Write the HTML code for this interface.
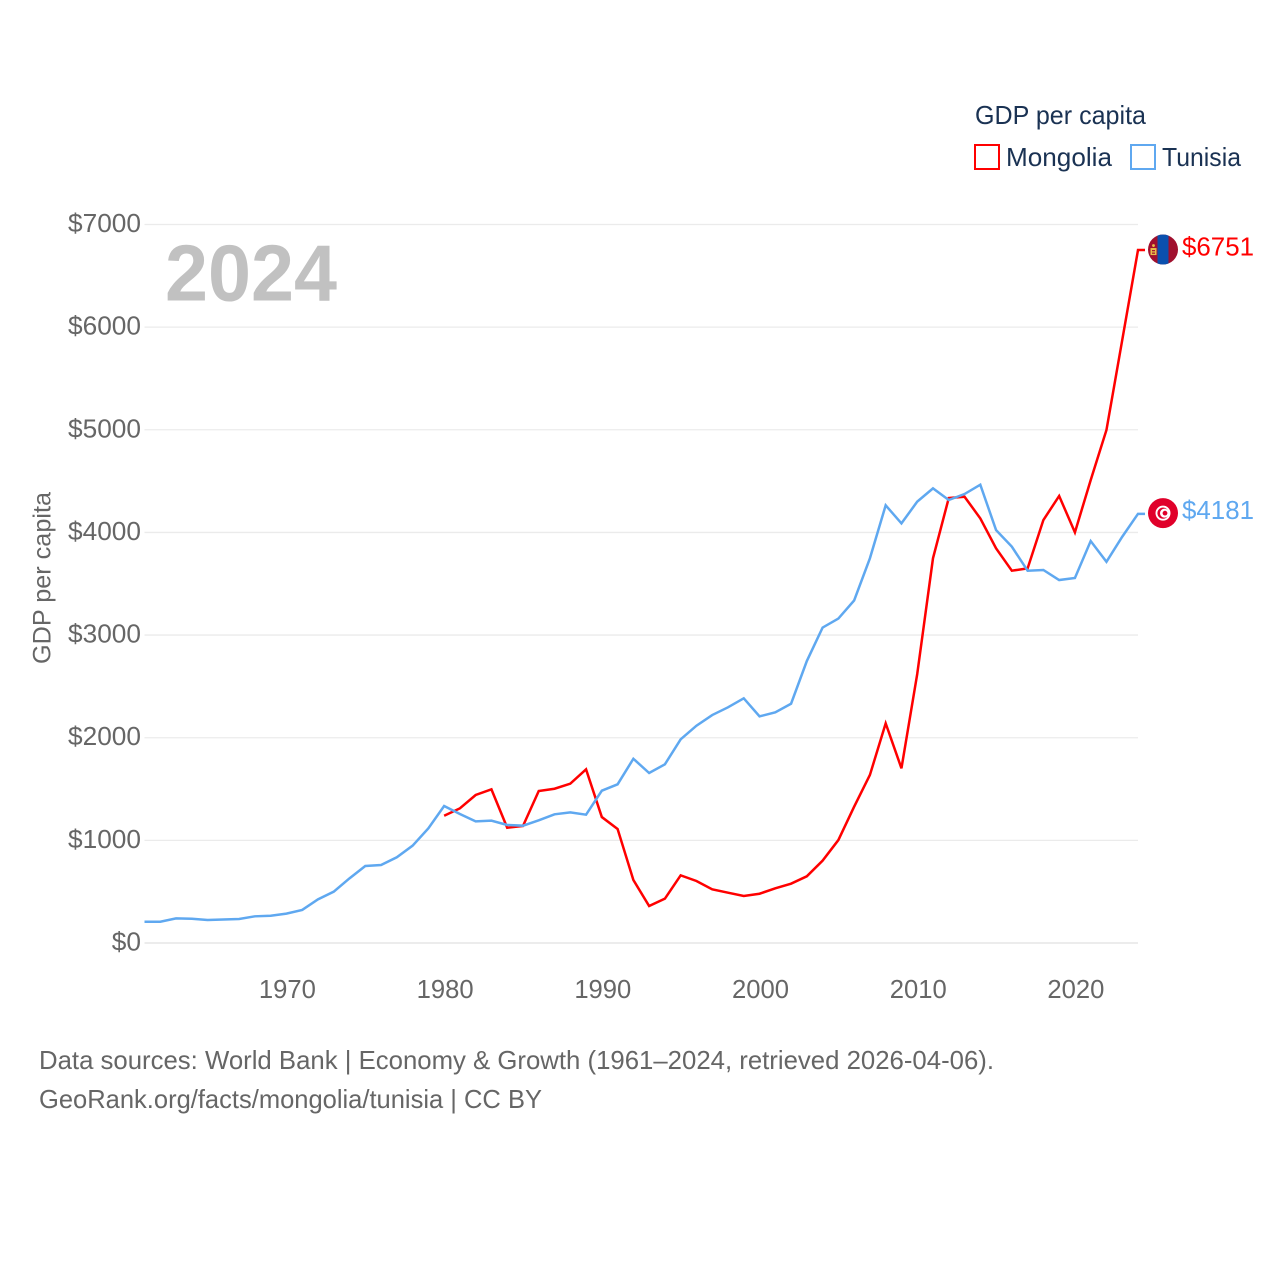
<!DOCTYPE html>
<html lang="en">
<head>
<meta charset="utf-8">
<title>GDP per capita: Mongolia and Tunisia</title>
<style>
html,body{margin:0;padding:0;background:#fff;}
body{width:1280px;height:1280px;overflow:hidden;}
svg{display:block;}
text{font-family:"Liberation Sans",sans-serif;}
</style>
</head>
<body>
<svg id="chart" width="1280" height="1280" viewBox="0 0 1280 1280" xmlns="http://www.w3.org/2000/svg">
  <rect x="0" y="0" width="1280" height="1280" fill="#ffffff"/>
  <g id="grid"></g>
  <g id="yticks"></g>
  <g id="xticks"></g>
  <text x="165" y="300.5" font-size="80" font-weight="700" fill="#c1c1c1" textLength="172" lengthAdjust="spacingAndGlyphs">2024</text>
  <text transform="translate(50.5,664) rotate(-90)" font-size="25" fill="#666666" textLength="172" lengthAdjust="spacingAndGlyphs">GDP per capita</text>
  <g id="series"></g>
  <g id="endmarks"></g>
  <g>
    <text x="975" y="124" font-size="26" fill="#1a3253" textLength="171" lengthAdjust="spacingAndGlyphs">GDP per capita</text>
    <rect x="975" y="145" width="24" height="24" fill="#ffffff" stroke="#ff0000" stroke-width="2"/>
    <text x="1006" y="166" font-size="26" fill="#1a3253" textLength="106" lengthAdjust="spacingAndGlyphs">Mongolia</text>
    <rect x="1131" y="145" width="24" height="24" fill="#ffffff" stroke="#5fa8f0" stroke-width="2"/>
    <text x="1162" y="166" font-size="26" fill="#1a3253" textLength="79" lengthAdjust="spacingAndGlyphs">Tunisia</text>
  </g>
  <g>
    <text x="39" y="1069" font-size="26" fill="#666666" textLength="955" lengthAdjust="spacingAndGlyphs">Data sources: World Bank | Economy &amp; Growth (1961–2024, retrieved 2026-04-06).</text>
    <text x="39" y="1108" font-size="26" fill="#666666" textLength="503" lengthAdjust="spacingAndGlyphs">GeoRank.org/facts/mongolia/tunisia | CC BY</text>
  </g>
</svg>
<script>
const yTickValues = [0, 1000, 2000, 3000, 4000, 5000, 6000, 7000];
const yTickLabels = ["$0", "$1000", "$2000", "$3000", "$4000", "$5000", "$6000", "$7000"];
const xTickYears = [1970, 1980, 1990, 2000, 2010, 2020];
const firstYear = 1961;
const lastYear = 2024;
const mongoliaStartYear = 1980;
const mongoliaValues = [1240, 1312, 1442, 1497, 1123, 1140, 1481, 1503, 1552, 1692, 1227, 1111, 614, 360, 432, 659, 604, 523, 490, 458, 480, 533, 578, 650, 802, 1003, 1328, 1637, 2140, 1702, 2620, 3748, 4335, 4348, 4137, 3845, 3627, 3650, 4121, 4355, 4001, 4510, 4998, 5874, 6751];
const tunisiaStartYear = 1961;
const tunisiaValues = [207, 207, 240, 236, 224, 229, 234, 260, 266, 286, 322, 425, 500, 630, 750, 760, 835, 948, 1117, 1335, 1257, 1185, 1192, 1150, 1143, 1195, 1254, 1273, 1250, 1484, 1546, 1795, 1656, 1741, 1984, 2117, 2221, 2296, 2384, 2208, 2247, 2331, 2747, 3073, 3161, 3337, 3748, 4264, 4088, 4300, 4429, 4316, 4374, 4465, 4023, 3861, 3627, 3634, 3536, 3556, 3916, 3714, 3958, 4181];
const mongoliaEndLabel = "$6751";
const tunisiaEndLabel = "$4181";

const NS = "http://www.w3.org/2000/svg";
const plotLeft = 144.5, plotRight = 1138, plotBottom = 943, plotTop = 224.5;
const xScale = year => plotLeft + (year - firstYear) * (plotRight - plotLeft) / (lastYear - firstYear);
const yScale = value => plotBottom - value * (plotBottom - plotTop) / 7000;

function make(tag, attrs, parent) {
  const el = document.createElementNS(NS, tag);
  for (const k in attrs) el.setAttribute(k, attrs[k]);
  parent.appendChild(el);
  return el;
}

const gridGroup = document.getElementById("grid");
const yGroup = document.getElementById("yticks");
const xGroup = document.getElementById("xticks");
const seriesGroup = document.getElementById("series");
const endGroup = document.getElementById("endmarks");

yTickValues.forEach((v, i) => {
  const line = make("line", {x1: plotLeft, x2: plotRight, y1: yScale(v), y2: yScale(v), stroke: v === 0 ? "#e6e6e6" : "#ebebeb", "stroke-width": v === 0 ? 1.6 : 1.3}, gridGroup);
  
  
  const label = yTickLabels[i];
  const t = make("text", {x: 141 - label.length * 14.6, y: yScale(v) + 7.5, "font-size": 26, fill: "#666666", textLength: label.length * 14.6, lengthAdjust: "spacingAndGlyphs"}, yGroup);
  
  
  t.textContent = label;
});

xTickYears.forEach(year => {
  const t = make("text", {x: xScale(year) - 27.5, y: 998, "font-size": 26, fill: "#666666", textLength: 57, lengthAdjust: "spacingAndGlyphs"}, xGroup);
  
  
  t.textContent = String(year);
});

function linePoints(values, startYear) {
  const pts = values.map((v, i) => xScale(startYear + i).toFixed(2) + "," + yScale(v).toFixed(2));
  const last = values[values.length - 1];
  pts.push((xScale(lastYear) + 7).toFixed(2) + "," + yScale(last).toFixed(2));
  return pts.join(" ");
}

const mongoliaLine = make("polyline", {points: linePoints(mongoliaValues, mongoliaStartYear), fill: "none", stroke: "#ff0000", "stroke-width": 2.5, "stroke-linejoin": "miter"}, seriesGroup);



const tunisiaLine = make("polyline", {points: linePoints(tunisiaValues, tunisiaStartYear), fill: "none", stroke: "#5fa8f0", "stroke-width": 2.5, "stroke-linejoin": "miter"}, seriesGroup);



const flagX = 1163;
const mY = yScale(mongoliaValues[mongoliaValues.length - 1]) - 0.5;
const tY = yScale(tunisiaValues[tunisiaValues.length - 1]) - 0.7;

const mFlag = make("g", {}, endGroup);


const clipDefs = make("defs", {}, mFlag);
const clip = make("clipPath", {id: "mclip"}, clipDefs);
make("circle", {cx: flagX, cy: mY, r: 15}, clip);
const mBody = make("g", {"clip-path": "url(#mclip)"}, mFlag);
make("rect", {x: flagX - 15, y: mY - 15, width: 30, height: 30, fill: "#a0102e"}, mBody);
make("rect", {x: flagX - 5.5, y: mY - 15, width: 11, height: 30, fill: "#0b50ae"}, mBody);
make("rect", {x: flagX - 12.5, y: mY - 1.5, width: 6, height: 7, fill: "#e8c04a"}, mBody);
make("circle", {cx: flagX - 9.5, cy: mY - 4, r: 1.4, fill: "#e8c04a"}, mBody);
make("rect", {x: flagX - 11, y: mY + 0.5, width: 3, height: 1.2, fill: "#a0102e"}, mBody);
make("rect", {x: flagX - 11, y: mY + 3, width: 3, height: 1.2, fill: "#a0102e"}, mBody);

const mLabel = make("text", {x: 1182, y: mY + 6, "font-size": 26, fill: "#ff0000", textLength: 72, lengthAdjust: "spacingAndGlyphs"}, endGroup);


mLabel.textContent = mongoliaEndLabel;

const tFlag = make("g", {}, endGroup);


make("circle", {cx: flagX, cy: tY, r: 15, fill: "#e0002a"}, tFlag);
make("circle", {cx: flagX, cy: tY, r: 7.5, fill: "#ffffff"}, tFlag);
make("circle", {cx: flagX, cy: tY, r: 5.6, fill: "#e0002a"}, tFlag);
make("circle", {cx: flagX + 1.5, cy: tY, r: 4.5, fill: "#ffffff"}, tFlag);
make("circle", {cx: flagX + 2, cy: tY, r: 2.4, fill: "#e0002a"}, tFlag);

const tLabel = make("text", {x: 1182, y: tY + 6, "font-size": 26, fill: "#5fa8f0", textLength: 72, lengthAdjust: "spacingAndGlyphs"}, endGroup);


tLabel.textContent = tunisiaEndLabel;
</script>
</body>
</html>
